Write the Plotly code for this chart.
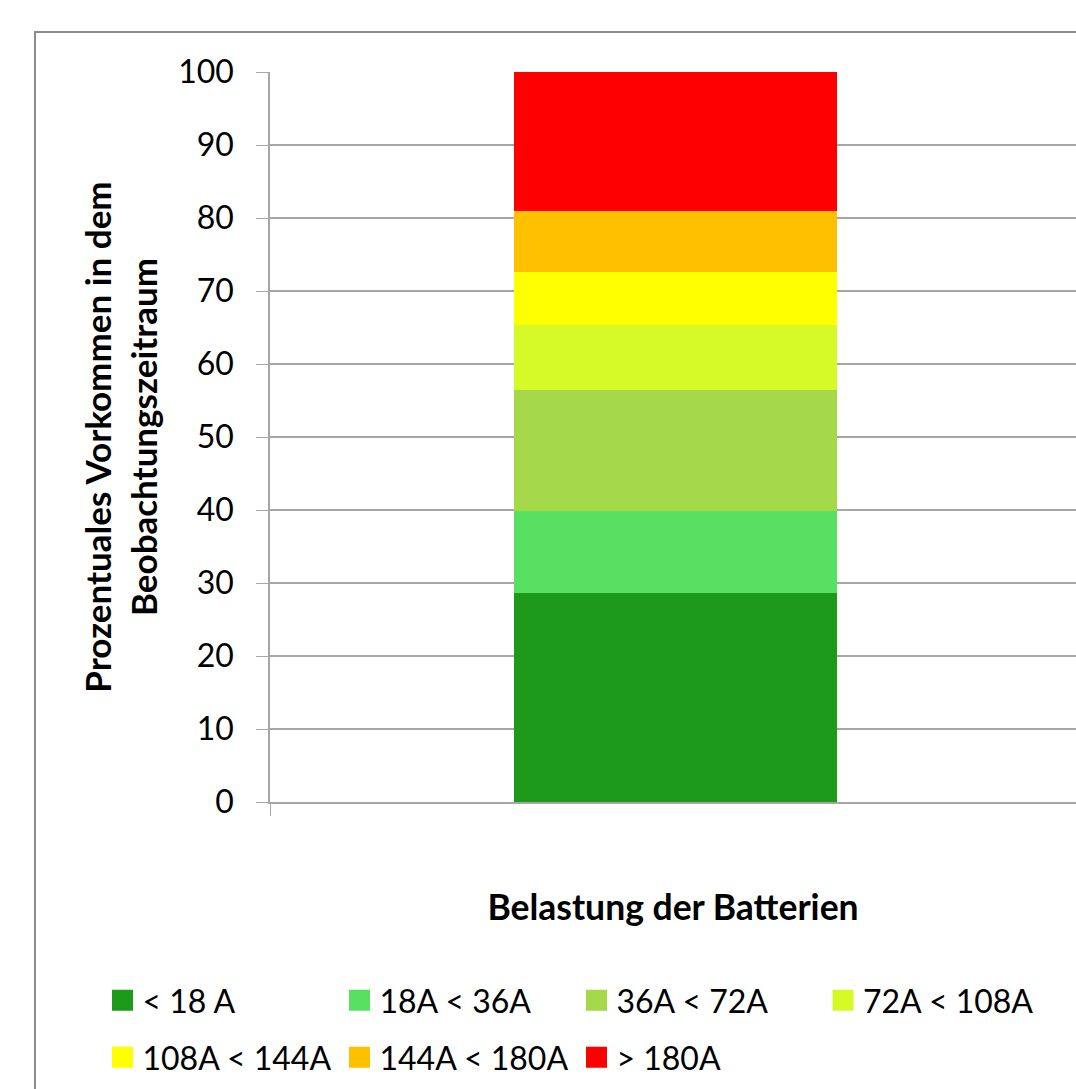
import plotly.graph_objects as go

categories = ["< 18 A", "18A < 36A", "36A < 72A", "72A < 108A", "108A < 144A", "144A < 180A", "> 180A"]
values = [28.6, 11.2, 16.7, 8.8, 7.3, 8.4, 19.0]
colors = ["#1E9A1A", "#58E062", "#A6D94A", "#D6F928", "#FFFF00", "#FFC000", "#FF0000"]
legend_ids = ["legend", "legend", "legend", "legend3", "legend2", "legend2", "legend2"]
yticks = [0, 10, 20, 30, 40, 50, 60, 70, 80, 90, 100]

FONT = "Lato"
W, H = 1076, 1089
L, R, T = 270, 0, 72
B = H - 802
PW, PH = W - L - R, H - T - B


def px_x(p):
    return (p - L) / PW


def px_y(p):
    return (H - B - p) / PH


fig = go.Figure()
for name, v, c in zip(categories, values, colors):
    fig.add_trace(go.Bar(x=[0], y=[v], name=name, marker=dict(color=c, line=dict(width=0)),
                         width=0.398, showlegend=False, legendgroup=name))
for name, c, lg in zip(categories, colors, legend_ids):
    fig.add_trace(go.Scatter(x=[None], y=[None], mode="markers", name=name, legend=lg,
                             legendgroup=name,
                             marker=dict(symbol="square", size=16, color=c,
                                         line=dict(color=c, width=5))))

leg_common = dict(orientation="h", xanchor="left", yanchor="top",
                  entrywidth=192, entrywidthmode="pixels", traceorder="normal",
                  font=dict(size=32), bgcolor="rgba(0,0,0,0)")

fig.update_layout(
    width=W, height=H,
    margin=dict(l=L, r=R, t=T, b=B, pad=0),
    paper_bgcolor="white", plot_bgcolor="white",
    barmode="stack", bargap=0,
    font=dict(family=FONT, color="#000000", size=32),
    xaxis=dict(range=[-0.5, 0.494], showgrid=False, zeroline=False,
               showline=True, linecolor="#A6A6A6", linewidth=1.5,
               tickvals=[-0.5], ticks="outside", ticklen=12, tickcolor="#A6A6A6",
               showticklabels=False,
               title=dict(text="<b>Belastung der Batterien</b>", font=dict(size=35.5), standoff=80)),
    yaxis=dict(range=[0, 100], tickvals=yticks, showgrid=True, gridcolor="#A6A6A6", gridwidth=1.5,
               zeroline=False, showline=True, linecolor="#A6A6A6", linewidth=1.5,
               ticks="outside", ticklen=12, tickcolor="#A6A6A6", ticklabelstandoff=16,
               tickfont=dict(size=32),
               title=dict(text="<b>Prozentuales Vorkommen in dem<br>Beobachtungszeitraum</b>",
                          font=dict(size=35), standoff=10)),
    legend=dict(x=px_x(102.5), y=px_y(973), **leg_common),
    legend3=dict(x=px_x(823), y=px_y(973), **leg_common),
    legend2=dict(x=px_x(102.5), y=px_y(1030), **leg_common),
    showlegend=True,
)

fig.add_shape(type="rect", xref="paper", yref="paper",
              x0=px_x(35), x1=px_x(W + 30), y0=px_y(H + 30), y1=px_y(32),
              line=dict(color="#8C8C8C", width=2), fillcolor="rgba(0,0,0,0)", layer="below")

fig.write_html("out.html", config={"displayModeBar": False},
               post_script="document.body.style.margin='0';document.body.style.overflow='hidden';")
